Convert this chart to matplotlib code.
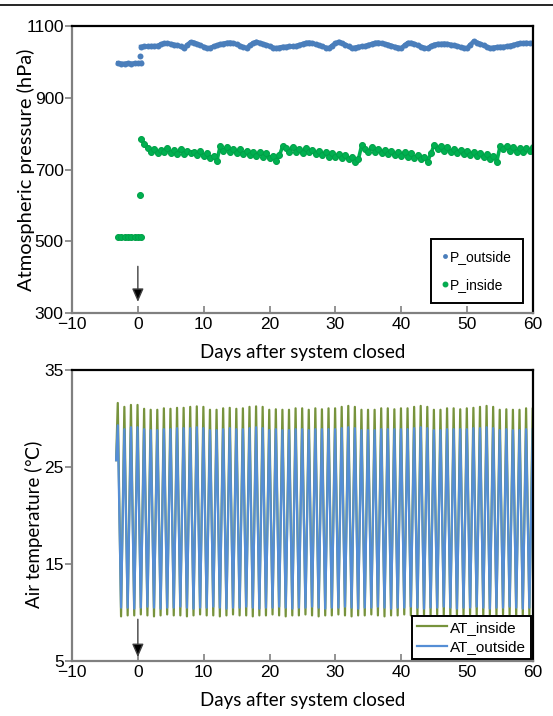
import numpy as np
import matplotlib
matplotlib.use("Agg")
import matplotlib.pyplot as plt
from matplotlib.lines import Line2D

# ---------------- data ----------------
# Atmospheric pressure (hPa), before closure (days -3 .. 0.5, 0.5-day steps)
pre_days = [-3.0, -2.5, -2.0, -1.5, -1.0, -0.5, 0.0, 0.5]
p_out_pre = [996, 995, 995, 996, 995, 996, 996, 997]
p_in_pre = [511, 512, 511, 511, 512, 511, 512, 511]
# transition point right after closing
trans_day = [0.3]
p_out_trans = [1016]
p_in_trans = [630]

# after closure, days 0.5 .. 60 in 0.5-day steps
post_days = np.arange(0.5, 60.01, 0.5)
p_out_post = [
    1042, 1043, 1043, 1044, 1044, 1045, 1049, 1052, 1052, 1050,
    1048, 1046, 1043, 1038, 1047, 1055, 1054, 1050, 1046, 1042,
    1038, 1039, 1043, 1046, 1049, 1051, 1053, 1054, 1052, 1049,
    1045, 1041, 1038, 1046, 1052, 1056, 1053, 1050, 1047, 1044,
    1040, 1038, 1040, 1042, 1042, 1043, 1043, 1044, 1047, 1050,
    1053, 1054, 1052, 1049, 1046, 1043, 1040, 1038, 1045, 1052,
    1056, 1052, 1048, 1043, 1038, 1040, 1042, 1043, 1044, 1047,
    1050, 1053, 1054, 1052, 1050, 1048, 1045, 1042, 1040, 1038,
    1046, 1053, 1053, 1050, 1046, 1042, 1039, 1038, 1044, 1048,
    1050, 1050, 1051, 1050, 1048, 1046, 1044, 1041, 1039, 1038,
    1048, 1057, 1054, 1050, 1046, 1042, 1038, 1040, 1041, 1042,
    1042, 1043, 1045, 1047, 1050, 1052, 1052, 1053, 1052, 1053,
]
p_in_post = [
    786, 772, 760, 748, 757, 745, 755, 748, 760, 746,
    754, 744, 756, 742, 752, 745, 748, 740, 752, 738,
    745, 733, 738, 724, 765, 752, 762, 748, 758, 746,
    756, 744, 752, 740, 750, 738, 748, 736, 745, 732,
    738, 724, 740, 765, 760, 748, 764, 750, 758, 746,
    760, 748, 755, 744, 752, 740, 748, 736, 746, 734,
    744, 732, 740, 728, 735, 722, 730, 768, 758, 748,
    762, 750, 758, 746, 755, 743, 752, 740, 750, 738,
    748, 735, 745, 732, 740, 728, 735, 722, 745, 768,
    758, 766, 752, 762, 748, 758, 745, 755, 742, 752,
    740, 750, 738, 746, 735, 742, 728, 738, 722, 765,
    756, 766, 752, 762, 750, 760, 748, 760, 752, 762,
]

# Air temperature: daily maxima (days -3 .. 60) and minima (days -3 .. 59)
peak_days = np.arange(-3, 61) - 0.05
trough_days = np.arange(-3, 60) + 0.45
at_in_max = [
    31.6, 31.2, 31.4, 31.4, 31.0, 30.9, 30.9, 31.05, 31.0, 31.1, 31.1, 31.2,
    31.25, 31.2, 30.9, 30.9, 31.05, 31.1, 31.0, 31.05, 31.2, 31.25, 31.2, 30.9,
    30.95, 30.9, 30.9, 31.05, 31.05, 30.9, 31.05, 30.95,
    31.05, 31.05, 31.2, 31.3, 31.2, 30.9, 30.9, 30.9, 31.05, 31.05, 30.95, 31.05,
    31.05, 31.2, 31.3, 31.2, 30.9, 30.9, 31.05, 31.05, 30.95, 31.05, 31.1, 31.2,
    31.3, 31.2, 30.9, 30.95, 30.9, 30.9, 31.05, 31.0,
]
at_out_max = [
    29.3, 28.9, 29.1, 29.1, 28.9, 28.8, 28.8, 28.9, 28.9, 29.0, 29.0, 29.0,
    29.1, 29.0, 28.8, 28.8, 28.9, 29.0, 28.9, 28.9, 29.0, 29.1, 29.0, 28.8,
    28.9, 28.8, 28.8, 28.9, 28.9, 28.8, 28.9, 28.9,
    28.9, 28.9, 29.0, 29.1, 29.0, 28.8, 28.8, 28.8, 28.9, 28.9, 28.9, 28.9,
    28.9, 29.0, 29.1, 29.0, 28.8, 28.8, 28.9, 28.9, 28.9, 28.9, 29.0, 29.0,
    29.1, 29.0, 28.8, 28.9, 28.8, 28.8, 28.9, 28.9,
]
at_in_min = [
    9.6, 9.7, 9.7, 9.8, 9.7, 9.6, 9.7, 9.8, 9.7, 9.7, 9.6, 9.7,
    9.8, 9.7, 9.7, 9.6, 9.7, 9.8, 9.7, 9.7, 9.6, 9.7, 9.7, 9.8,
    9.7, 9.6, 9.7, 9.7, 9.8, 9.7, 9.6, 9.7,
    9.7, 9.8, 9.7, 9.6, 9.7, 9.7, 9.8, 9.7, 9.6, 9.7, 9.7, 9.8,
    9.7, 9.6, 9.7, 9.7, 9.8, 9.7, 9.6, 9.7, 9.7, 9.8, 9.7, 9.6,
    9.7, 9.7, 9.8, 9.7, 9.6, 9.7, 9.7,
]
at_out_min = [
    10.5, 10.5, 10.4, 10.5, 10.6, 10.5, 10.4, 10.5, 10.5, 10.6, 10.5, 10.4,
    10.5, 10.5, 10.6, 10.5, 10.4, 10.5, 10.5, 10.6, 10.5, 10.4, 10.5, 10.5,
    10.6, 10.5, 10.4, 10.5, 10.5, 10.6, 10.5, 10.4,
    10.5, 10.5, 10.6, 10.5, 10.4, 10.5, 10.5, 10.6, 10.5, 10.4, 10.5, 10.5,
    10.6, 10.5, 10.4, 10.5, 10.5, 10.6, 10.5, 10.4, 10.5, 10.5, 10.6, 10.5,
    10.4, 10.5, 10.5, 10.6, 10.5, 10.4, 10.5,
]
at_start_day = -3.3
at_start_val = 25.7

xticks = [-10, 0, 10, 20, 30, 40, 50, 60]
p_yticks = [300, 500, 700, 900, 1100]
t_yticks = [5, 15, 25, 35]

# ---------------- style ----------------
BLUE_P = "#4A7EBB"
GREEN_P = "#00B050"
GREEN_EDGE = "#00A048"
GREEN_T = "#77933C"
BLUE_T = "#558ED5"
GRAY = "#808080"
TICKFONT = ["Liberation Sans Narrow", "Liberation Sans", "DejaVu Sans"]
LABFONT = ["Lato", "DejaVu Sans"]

fig = plt.figure(figsize=(5.53, 7.16), dpi=100)
ax1 = fig.add_axes([72 / 553, 1 - 313 / 716, 461 / 553, 287 / 716])
ax2 = fig.add_axes([72 / 553, 1 - 661 / 716, 461 / 553, 291 / 716])

# line at the top of the page
fig.add_artist(Line2D([0, 1], [1 - 5 / 716, 1 - 5 / 716], color="black", lw=1.2,
                      transform=fig.transFigure))


def style_axes(ax):
    for s in ("left", "bottom"):
        ax.spines[s].set_color(GRAY)
        ax.spines[s].set_linewidth(1.6)
    for s in ("top", "right"):
        ax.spines[s].set_color("black")
        ax.spines[s].set_linewidth(1.6)
    ax.tick_params(axis="y", direction="out", length=5, width=1.2, color=GRAY,
                   pad=1, labelsize=12.5)
    ax.tick_params(axis="x", direction="in", length=5, width=1.2, color=GRAY,
                   pad=3, labelsize=12.5)
    for lab in ax.get_xticklabels() + ax.get_yticklabels():
        lab.set_family(TICKFONT)


# ---- top: pressure ----
ms = 4.3
for d, v in ((pre_days, p_out_pre), (trans_day, p_out_trans), (post_days, p_out_post)):
    ax1.plot(d, v, "-o", color=BLUE_P, ms=ms, mew=0, lw=3.2)
for d, v in ((pre_days, p_in_pre), (trans_day, p_in_trans), (post_days, p_in_post)):
    ax1.plot(d, v, "-o", color=GREEN_P, ms=ms, mew=0.7, mec=GREEN_EDGE, lw=2.6)
h_out = Line2D([], [], ls="none", marker="o", color=BLUE_P, ms=3.5, mew=0)
h_in = Line2D([], [], ls="none", marker="o", color=GREEN_P, ms=3.5, mew=0.7, mec=GREEN_EDGE)
ax1.set_xlim(-10, 60)
ax1.set_ylim(300, 1100)
ax1.set_xticks(xticks)
ax1.set_yticks(p_yticks)
style_axes(ax1)
ax1.set_xlabel("Days after system closed", family=LABFONT, fontsize=13.5)
ax1.xaxis.set_label_coords(0.5, -0.108)
ax1.set_ylabel("Atmospheric pressure (hPa)", family=LABFONT, fontsize=14.5)
ax1.yaxis.set_label_coords(-0.080, 0.5)
ax1.annotate("", xy=(0, 331), xytext=(0, 430),
             arrowprops=dict(arrowstyle="-|>,head_length=0.8,head_width=0.35",
                             fc="black", ec="#404040", lw=1.0, shrinkA=0, shrinkB=0))
leg1 = ax1.legend([h_out, h_in], ["P_outside", "P_inside"], loc="lower right",
                  frameon=True, fancybox=False, framealpha=1,
                  handlelength=0.5, handletextpad=0.15, borderpad=0.75,
                  labelspacing=1.05, borderaxespad=0.75,
                  prop={"family": TICKFONT, "size": 10})
leg1.get_frame().set_edgecolor("black")
leg1.get_frame().set_linewidth(1.4)

# ---- bottom: air temperature ----
def zigzag(maxima, minima):
    t = [at_start_day]
    v = [at_start_val]
    for i in range(len(maxima)):
        t.append(peak_days[i]); v.append(maxima[i])
        if i < len(minima):
            t.append(trough_days[i]); v.append(minima[i])
    return t, v

ti, vi = zigzag(at_in_max, at_in_min)
to, vo = zigzag(at_out_max, at_out_min)
ax2.plot(ti, vi, color=GREEN_T, lw=1.6, label="AT_inside")
ax2.plot(to, vo, color=BLUE_T, lw=1.6, label="AT_outside")
ax2.set_xlim(-10, 60)
ax2.set_ylim(5, 35)
ax2.set_xticks(xticks)
ax2.set_yticks(t_yticks)
style_axes(ax2)
ax2.set_xlabel("Days after system closed", family=LABFONT, fontsize=13.5)
ax2.xaxis.set_label_coords(0.5, -0.105)
ax2.set_ylabel("Air temperature (\u2103)", family=LABFONT, fontsize=13.5)
ax2.yaxis.set_label_coords(-0.063, 0.47)
ax2.annotate("", xy=(0, 5.4), xytext=(0, 9.3),
             arrowprops=dict(arrowstyle="-|>,head_length=0.8,head_width=0.35",
                             fc="black", ec="#404040", lw=1.0, shrinkA=0, shrinkB=0))
leg2 = ax2.legend(loc="lower right", frameon=True, fancybox=False, framealpha=1,
                  handlelength=2.0, handletextpad=0.2, borderpad=0.3,
                  labelspacing=0.35, borderaxespad=0.15,
                  prop={"family": TICKFONT, "size": 11})
leg2.get_frame().set_edgecolor("black")
leg2.get_frame().set_linewidth(1.4)

fig.savefig("out.png", dpi=100)
